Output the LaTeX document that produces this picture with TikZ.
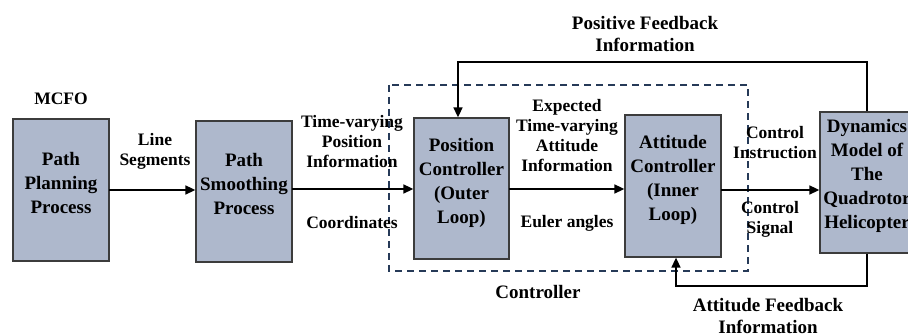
\documentclass[tikz,border=0pt]{standalone}
\usepackage{fontspec}
\setmainfont{Liberation Serif}
\usetikzlibrary{arrows.meta}
\definecolor{boxfill}{RGB}{174,184,204}
\definecolor{boxline}{RGB}{60,60,60}
\definecolor{dashblue}{RGB}{38,58,88}
\tikzset{
  blockbox/.style={draw=boxline, line width=1.3pt, fill=boxfill, inner sep=0pt},
  boxtext/.style={inner sep=0pt, align=center, font=\fontsize{19}{24}\selectfont\bfseries},
  lbl/.style={inner sep=0pt, align=center, font=\fontsize{17.5}{20}\selectfont\bfseries},
  flbl/.style={inner sep=0pt, align=center, font=\fontsize{19}{22}\selectfont\bfseries},
  conn/.style={line width=1.6pt, -{Triangle[length=10pt,width=9pt]}},
  ctrlbox/.style={draw=dashblue, line width=1.6pt, dash pattern=on 7pt off 5pt}
}
\begin{document}
\begin{tikzpicture}[x=1pt,y=-1pt]
\useasboundingbox (0,0) rectangle (908,336);
% controller dashed region
\draw[ctrlbox] (389,85) rectangle (748,271);
% blocks
\node[blockbox, minimum width=96pt, minimum height=142pt] (b1) at (61,190) {};
\node[blockbox, minimum width=96pt, minimum height=141pt] (b2) at (244,191.5) {};
\node[blockbox, minimum width=95pt, minimum height=141pt] (b3) at (461.5,188.5) {};
\node[blockbox, minimum width=96pt, minimum height=142pt] (b4) at (673,186) {};
\node[blockbox, minimum width=94pt, minimum height=141pt] (b5) at (867,182.5) {};
\node[boxtext] (b1t) at ([yshift=7pt]b1.center) {Path\\Planning\\Process};
\node[boxtext] (b2t) at ([yshift=7pt]b2.center) {Path\\Smoothing\\Process};
\node[boxtext] (b3t) at ([yshift=6pt]b3.center) {Position\\Controller\\(Outer\\Loop)};
\node[boxtext] (b4t) at ([yshift=6pt]b4.center) {Attitude\\Controller\\(Inner\\Loop)};
\node[boxtext] (b5t) at ([yshift=7pt]b5.center) {Dynamics\\Model of\\The\\Quadrotor\\Helicopter};
% forward connectors
\coordinate (a1) at (109,190);
\draw[conn] (a1) -- (a1 -| b2.west);
\coordinate (a2) at (292,189);
\draw[conn] (a2) -- (a2 -| b3.west);
\coordinate (a3) at (509,189);
\draw[conn] (a3) -- (a3 -| b4.west);
\coordinate (a4) at (721,190);
\draw[conn] (a4) -- (a4 -| b5.west);
% feedback loops
\coordinate (t1) at (867,62);
\coordinate (t2) at (458,62);
\draw[conn] (b5.north) -- (t1) -- (t2) -- (t2 |- b3.north);
\coordinate (u1) at (867,286);
\coordinate (u2) at (676,286);
\draw[conn] (b5.south) -- (u1) -- (u2) -- (u2 |- b4.south);
% labels
\node[lbl] (mcfo) at (61,99) {MCFO};
\node[lbl] (lseg) at (155,151) {Line\\Segments};
\node[lbl] (tvpi) at (352,142) {Time-varying\\Position\\Information};
\node[lbl] (coord) at (352,223) {Coordinates};
\node[lbl] (etva) at (567,136) {Expected\\Time-varying\\Attitude\\Information};
\node[lbl] (euler) at (567,223) {Euler angles};
\node[lbl] (cinst) at (775,143) {Control\\Instruction};
\node[lbl] (csig) at (770,219) {Control\\Signal};
\node[flbl] (pfb) at (645,34) {Positive Feedback\\Information};
\node[flbl] (afb) at (768,316) {Attitude Feedback\\Information};
\node[flbl] (ctrl) at (538,292) {Controller};
\end{tikzpicture}
\end{document}
